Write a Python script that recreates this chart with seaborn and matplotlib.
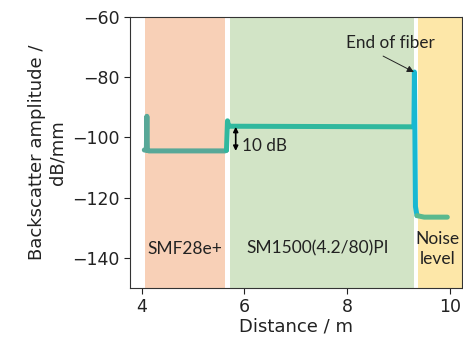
import matplotlib
matplotlib.use('Agg')
import matplotlib.pyplot as plt
import seaborn as sns

# trace, split in sections (distance in m, amplitude in dB/mm)
dist_smf = [4.05, 4.09, 4.10, 4.11, 4.14, 5.62, 5.65]
amp_smf = [-104.2, -104.3, -93.0, -104.3, -104.5, -104.5, -104.3]
dist_sm = [5.65, 5.67, 5.69, 5.72, 9.28, 9.30]
amp_sm = [-104.3, -94.5, -96.3, -96.3, -96.5, -96.5]
dist_end = [9.30, 9.31, 9.33, 9.36]
amp_end = [-96.5, -78.3, -123.0, -126.0]
dist_noise = [9.36, 9.50, 9.95]
amp_noise = [-126.0, -126.5, -126.5]

# shaded fibre sections
region_start = [4.07, 5.72, 9.38]
region_end = [5.62, 9.30, 10.3]
region_names = ['SMF28e+', 'SM1500(4.2/80)PI', 'Noise\nlevel']
region_label_x = [4.84, 7.43, 9.76]

sns.set_style('ticks')
fig, ax = plt.subplots(figsize=(4.64, 3.46), dpi=100)
fig.subplots_adjust(left=0.280, right=0.995, top=0.951, bottom=0.168)

region_colors = ['#f8d0b7', '#d2e4c6', '#fde7a8']
for s, e, c in zip(region_start, region_end, region_colors):
    ax.axvspan(s, e, color=c, lw=0, zorder=0)

sections = [(dist_smf, amp_smf, '#58a898'), (dist_sm, amp_sm, '#30b89e'),
            (dist_end, amp_end, '#18b8d2'), (dist_noise, amp_noise, '#5ab98e')]
for x, y, c in sections:
    sns.lineplot(x=x, y=y, sort=False, estimator=None, color=c, linewidth=3.6, ax=ax)

annot_font = 'Lato'
for name, xpos in zip(region_names, region_label_x):
    ax.text(xpos, -137, name, ha='center', va='center', fontsize=12.5,
            family=annot_font, color='#222222', linespacing=1.3)

ax.text(8.84, -68.6, 'End of fiber', ha='center', va='center', fontsize=12.3,
        family=annot_font, color='#222222')
ax.annotate('', xy=(9.30, -78.3), xytext=(8.70, -73.0),
            arrowprops=dict(arrowstyle='-|>', color='#222222', lw=0.7,
                            shrinkA=0, shrinkB=0, mutation_scale=10))
ax.annotate('', xy=(5.83, -96.5), xytext=(5.83, -104.5),
            arrowprops=dict(arrowstyle='<|-|>', color='black', lw=1.2,
                            shrinkA=0, shrinkB=0, mutation_scale=7))
ax.text(5.96, -102.8, '10 dB', ha='left', va='center', fontsize=12.3,
        family=annot_font, color='#222222')

ax.set_xlim(3.77, 10.23)
ax.set_ylim(-150, -60)
ax.set_xticks([4, 6, 8, 10])
ax.set_yticks([-60, -80, -100, -120, -140])
ax.tick_params(labelsize=12.5, length=4, width=0.8, colors='#222222')
ax.set_xlabel('Distance / m', fontsize=13, labelpad=1, color='#222222')
ax.set_ylabel('Backscatter amplitude /\ndB/mm', fontsize=13, labelpad=4,
              color='#222222')
for sp in ax.spines.values():
    sp.set_linewidth(0.8)
    sp.set_color('#333333')

fig.savefig('out.png', dpi=100)
